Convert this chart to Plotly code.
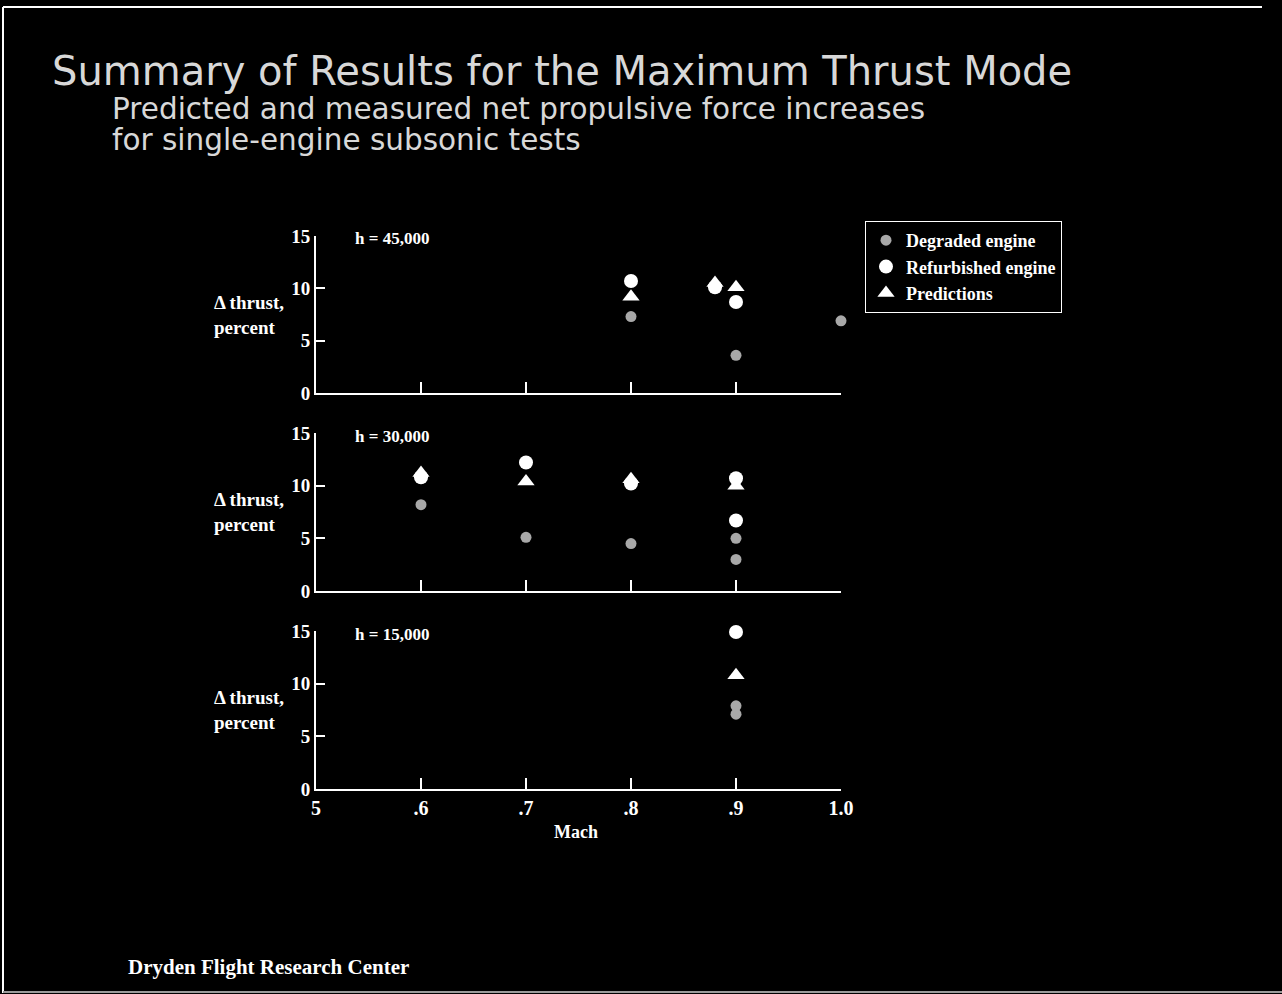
import plotly.graph_objects as go

W, H = 1282, 994

# ---------------- data ----------------
altitudes = ["h = 45,000", "h = 30,000", "h = 15,000"]

degraded_mach_45 = [0.8, 0.9, 1.0]
degraded_thrust_45 = [7.3, 3.6, 6.9]
refurb_mach_45 = [0.8, 0.88, 0.9]
refurb_thrust_45 = [10.7, 10.1, 8.7]
pred_mach_45 = [0.8, 0.88, 0.9]
pred_thrust_45 = [9.2, 10.5, 10.1]

degraded_mach_30 = [0.6, 0.7, 0.8, 0.9, 0.9]
degraded_thrust_30 = [8.2, 5.1, 4.5, 5.0, 3.0]
refurb_mach_30 = [0.6, 0.7, 0.8, 0.9, 0.9]
refurb_thrust_30 = [10.8, 12.2, 10.2, 10.7, 6.7]
pred_mach_30 = [0.6, 0.7, 0.8, 0.9]
pred_thrust_30 = [11.2, 10.4, 10.6, 10.0]

degraded_mach_15 = [0.9, 0.9]
degraded_thrust_15 = [7.9, 7.1]
refurb_mach_15 = [0.9]
refurb_thrust_15 = [14.9]
pred_mach_15 = [0.9]
pred_thrust_15 = [10.8]

x_tick_vals = [0.5, 0.6, 0.7, 0.8, 0.9, 1.0]
x_tick_text = ["5", ".6", ".7", ".8", ".9", "1.0"]
y_tick_vals = [0, 5, 10, 15]

series_names = ["Degraded engine", "Refurbished engine", "Predictions"]

# ---------------- layout helpers ----------------
def px_x(p):
    return p / W

def px_y(p):
    return 1 - p / H

SERIF = "Liberation Serif, Times New Roman, serif"
SANS = "DejaVu Sans, Arial, Helvetica, sans-serif"

panel_px = [(236, 393), (433, 591), (631, 789)]
x_left_px, x_right_px = 316, 841

panels = [
    (degraded_mach_45, degraded_thrust_45, refurb_mach_45, refurb_thrust_45, pred_mach_45, pred_thrust_45),
    (degraded_mach_30, degraded_thrust_30, refurb_mach_30, refurb_thrust_30, pred_mach_30, pred_thrust_30),
    (degraded_mach_15, degraded_thrust_15, refurb_mach_15, refurb_thrust_15, pred_mach_15, pred_thrust_15),
]

fig = go.Figure()

for i, (dm, dt, rm, rt, pm, pt) in enumerate(panels):
    xa = "x" if i == 0 else f"x{i+1}"
    ya = "y" if i == 0 else f"y{i+1}"
    show = i == 0
    fig.add_trace(go.Scatter(
        x=dm, y=dt, mode="markers", name=series_names[0], legendgroup="d",
        showlegend=show, xaxis=xa, yaxis=ya, cliponaxis=False,
        marker=dict(symbol="circle", size=11, color="#a8a8a8"),
    ))
    fig.add_trace(go.Scatter(
        x=pm, y=pt, mode="markers", name=series_names[2], legendgroup="p",
        showlegend=False, xaxis=xa, yaxis=ya, cliponaxis=False,
        marker=dict(symbol="triangle-up", size=15, color="white"),
    ))
    fig.add_trace(go.Scatter(
        x=rm, y=rt, mode="markers", name=series_names[1], legendgroup="r",
        showlegend=show, xaxis=xa, yaxis=ya, cliponaxis=False,
        marker=dict(symbol="circle", size=14, color="white"),
    ))

# legend-only entry for predictions so the legend order matches the reference
fig.add_trace(go.Scatter(
    x=[None], y=[None], mode="markers", name=series_names[2], legendgroup="p",
    showlegend=True, xaxis="x", yaxis="y",
    marker=dict(symbol="triangle-up", size=15, color="white"),
))

layout = dict(
    width=W, height=H,
    margin=dict(l=0, r=0, t=0, b=0, autoexpand=False),
    paper_bgcolor="black", plot_bgcolor="black",
    showlegend=True,
    legend=dict(
        x=px_x(865), y=px_y(221), xanchor="left", yanchor="top",
        bgcolor="black", bordercolor="white", borderwidth=1,
        font=dict(family=SERIF, size=18, color="white", weight="bold"),
        itemsizing="trace", tracegroupgap=0, itemwidth=30,
        traceorder="normal",
    ),
)

annotations = []
for i, (top, bot) in enumerate(panel_px):
    xk = "xaxis" if i == 0 else f"xaxis{i+1}"
    yk = "yaxis" if i == 0 else f"yaxis{i+1}"
    ya = "y" if i == 0 else f"y{i+1}"
    last = i == 2
    layout[xk] = dict(
        domain=[px_x(x_left_px), px_x(x_right_px)],
        range=[0.5, 1.0], anchor=ya, automargin=False,
        showgrid=False, zeroline=False,
        showline=True, linecolor="white", linewidth=2,
        ticks="inside", ticklen=11, tickwidth=2, tickcolor="white",
        tickvals=x_tick_vals[1:] if not last else x_tick_vals,
        ticktext=x_tick_text[1:] if not last else x_tick_text,
        showticklabels=last,
        tickfont=dict(family=SERIF, size=20, color="white", weight="bold"),
        fixedrange=True,
    )
    layout[yk] = dict(
        domain=[px_y(bot), px_y(top)],
        range=[0, 15], anchor="x" if i == 0 else f"x{i+1}", automargin=False,
        showgrid=False, zeroline=False,
        showline=True, linecolor="white", linewidth=2,
        ticks="inside", ticklen=9, tickwidth=2, tickcolor="white",
        tickvals=y_tick_vals,
        tickfont=dict(family=SERIF, size=19, color="white", weight="bold"),
        fixedrange=True,
    )
    mid = (top + bot) / 2
    annotations.append(dict(
        xref="paper", yref="paper", x=px_x(212), y=px_y(mid),
        xanchor="left", yanchor="middle", showarrow=False,
        text="Δ thrust,<br>percent", align="left",
        font=dict(family=SERIF, size=19, color="white", weight="bold"),
    ))
    annotations.append(dict(
        xref="paper", yref="paper", x=px_x(353), y=px_y(top + 3),
        xanchor="left", yanchor="middle", showarrow=False,
        text=altitudes[i],
        font=dict(family=SERIF, size=17, color="white", weight="bold"),
    ))

annotations += [
    dict(xref="paper", yref="paper", x=px_x(50), y=px_y(71), xanchor="left", yanchor="middle",
         showarrow=False, text="Summary of Results for the Maximum Thrust Mode",
         font=dict(family=SANS, size=40, color="#d8d8d8")),
    dict(xref="paper", yref="paper", x=px_x(110), y=px_y(109), xanchor="left", yanchor="middle",
         showarrow=False, text="Predicted and measured net propulsive force increases",
         font=dict(family=SANS, size=29.5, color="#d8d8d8")),
    dict(xref="paper", yref="paper", x=px_x(110), y=px_y(140), xanchor="left", yanchor="middle",
         showarrow=False, text="for single-engine subsonic tests",
         font=dict(family=SANS, size=29.5, color="#d8d8d8")),
    dict(xref="paper", yref="paper", x=px_x(576), y=px_y(832), xanchor="center", yanchor="middle",
         showarrow=False, text="Mach",
         font=dict(family=SERIF, size=18, color="white", weight="bold")),
    dict(xref="paper", yref="paper", x=px_x(126), y=px_y(967), xanchor="left", yanchor="middle",
         showarrow=False, text="Dryden Flight Research Center",
         font=dict(family=SERIF, size=21, color="white", weight="bold")),
]
layout["annotations"] = annotations

layout["shapes"] = [
    dict(type="line", xref="paper", yref="paper", x0=px_x(3), x1=px_x(3), y0=px_y(7), y1=px_y(993),
         line=dict(color="white", width=2)),
    dict(type="line", xref="paper", yref="paper", x0=px_x(3), x1=px_x(1262), y0=px_y(7), y1=px_y(7),
         line=dict(color="white", width=2)),
    dict(type="line", xref="paper", yref="paper", x0=px_x(3), x1=px_x(1282), y0=px_y(992), y1=px_y(992),
         line=dict(color="#9a9a9a", width=2)),
]

fig.update_layout(**layout)
fig.write_html(
    "out.html",
    config={"displayModeBar": False},
    post_script="document.body.style.margin='0';document.body.style.background='black';",
)
